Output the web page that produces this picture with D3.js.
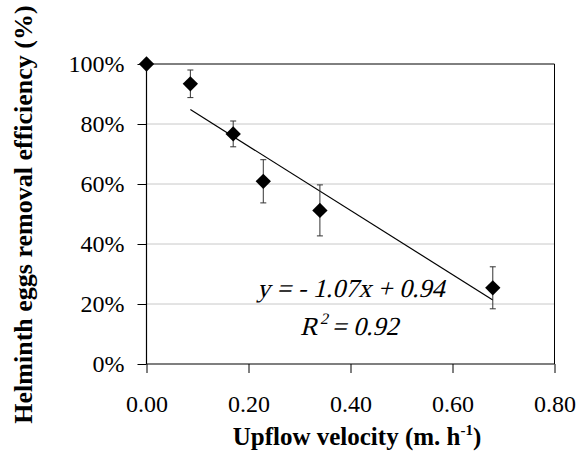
<!DOCTYPE html>
<html><head><meta charset="utf-8">
<script src="https://cdn.jsdelivr.net/npm/d3@7"></script>
<style>body{margin:0;background:#fff}svg{display:block}</style>
</head><body>
<script>
const velocity = [0.00, 0.086, 0.17, 0.229, 0.34, 0.679];
const efficiency = [1.00, 0.934, 0.767, 0.609, 0.512, 0.254];
const errors = [0, 0.046, 0.043, 0.072, 0.085, 0.07];
const xTicks = [0, 0.2, 0.4, 0.6, 0.8];
const yTicks = [0, 0.2, 0.4, 0.6, 0.8, 1.0];
const slope = -1.07, intercept = 0.94;

const W = 577, H = 453;
const m = {left:146.5, right:22.5, top:64, bottom:89};
const svg = d3.select("body").append("svg").attr("width", W).attr("height", H);
const x = d3.scaleLinear().domain([0,0.8]).range([m.left, W-m.right]);
const y = d3.scaleLinear().domain([0,1]).range([H-m.bottom, m.top]);
const font = "'Liberation Serif','Times New Roman',serif";

// gridlines
svg.append("g").selectAll("line").data(yTicks.filter(d=>d>0&&d<1)).join("line")
  .attr("x1", x(0)).attr("x2", x(0.8)).attr("y1", d=>y(d)).attr("y2", d=>y(d))
  .attr("stroke", "#c8c8c8").attr("stroke-width", 1);
// border top/right
svg.append("line").attr("x1", x(0)).attr("x2", x(0.8)).attr("y1", y(1)).attr("y2", y(1)).attr("stroke","#000");
svg.append("line").attr("x1", x(0.8)).attr("x2", x(0.8)).attr("y1", y(1)).attr("y2", y(0)).attr("stroke","#000");

// axes
const xAxis = svg.append("g").attr("transform", `translate(0,${y(0)})`)
  .call(d3.axisBottom(x).tickValues(xTicks).tickFormat(d3.format(".2f")).tickSize(9).tickPadding(22));
const yAxis = svg.append("g").attr("transform", `translate(${x(0)},0)`)
  .call(d3.axisLeft(y).tickValues(yTicks).tickFormat(d3.format(".0%")).tickSize(9).tickPadding(13));
[xAxis, yAxis].forEach(g => {
  g.select(".domain").attr("stroke","#000").attr("stroke-width",1.2);
  g.selectAll(".tick line").attr("stroke","#000");
  g.selectAll("text").attr("fill","#000").style("font-family", font).style("font-size","24px");
});
xAxis.select(".domain").attr("d", `M${x(0)},0H${x(0.8)}`);
yAxis.select(".domain").attr("d", `M0,${y(0)}V${y(1)}`);

// trend line
const xs = [d3.min(velocity.slice(1)), d3.max(velocity)];
svg.append("line")
  .attr("x1", x(xs[0])).attr("y1", y(slope*xs[0]+intercept))
  .attr("x2", x(xs[1])).attr("y2", y(slope*xs[1]+intercept))
  .attr("stroke","#000").attr("stroke-width",1.2);

// error bars
const data = velocity.map((v,i)=>({v, e:efficiency[i], err:errors[i]}));
const eb = svg.append("g").selectAll("g").data(data.filter(d=>d.err>0)).join("g");
eb.append("line").attr("x1", d=>x(d.v)).attr("x2", d=>x(d.v))
  .attr("y1", d=>y(d.e+d.err)).attr("y2", d=>y(d.e-d.err)).attr("stroke","#333");
eb.append("line").attr("x1", d=>x(d.v)-3).attr("x2", d=>x(d.v)+3)
  .attr("y1", d=>y(d.e+d.err)).attr("y2", d=>y(d.e+d.err)).attr("stroke","#333");
eb.append("line").attr("x1", d=>x(d.v)-3).attr("x2", d=>x(d.v)+3)
  .attr("y1", d=>y(d.e-d.err)).attr("y2", d=>y(d.e-d.err)).attr("stroke","#333");

// diamonds
svg.append("g").selectAll("path").data(data).join("path")
  .attr("d", d3.symbol(d3.symbolDiamond2, 150))
  .attr("transform", d=>`translate(${x(d.v)},${y(d.e)})`)
  .attr("fill","#000");

// equation (regular serif, skewed to imitate italic)
const eq = svg.append("text").attr("transform", "translate(257,297) skewX(-14)")
  .style("font-family", font).style("font-size","26px");
eq.text("y = - 1.07x + 0.94");
const r2 = svg.append("text").attr("transform", "translate(300,335) skewX(-14)")
  .style("font-family", font).style("font-size","26px");
r2.append("tspan").text("R");
r2.append("tspan").attr("dy", -11).style("font-size","16px").text("2");
r2.append("tspan").attr("dy", 11).text(" = 0.92");

// axis titles
const xt = svg.append("text").attr("x", 357).attr("y", 445).attr("text-anchor","middle")
  .style("font-family", font).style("font-weight","bold").style("font-size","25px");
xt.append("tspan").text("Upflow velocity (m. h");
xt.append("tspan").attr("dy",-10).style("font-size","15px").text("-1");
xt.append("tspan").attr("dy",10).text(")");

svg.append("text").attr("transform", `translate(32,214.5) rotate(-90)`).attr("text-anchor","middle")
  .style("font-family", font).style("font-weight","bold").style("font-size","26px")
  .text("Helminth eggs removal efficiency (%)");
</script>
</body></html>
